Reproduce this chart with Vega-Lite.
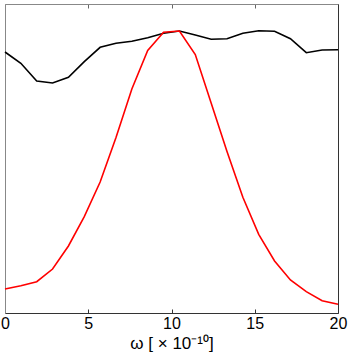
{
  "$schema": "https://vega.github.io/schema/vega-lite/v6.json",
  "width": 333,
  "height": 309,
  "autosize": {"type": "none"},
  "padding": {"left": 5, "top": 4, "right": 11, "bottom": 46},
  "background": "white",
  "config": {
    "view": {"stroke": null},
    "font": "Liberation Sans",
    "axis": {"grid": false}
  },
  "datasets": {
    "black": [
      {"w": 0, "v": 261}, {"w": 0.952, "v": 249.7}, {"w": 1.905, "v": 232}, {"w": 2.857, "v": 230},
      {"w": 3.81, "v": 235.7}, {"w": 4.762, "v": 251.3}, {"w": 5.714, "v": 265.7}, {"w": 6.667, "v": 269.7},
      {"w": 7.619, "v": 271.7}, {"w": 8.571, "v": 275.3}, {"w": 9.524, "v": 279.7}, {"w": 10.476, "v": 282},
      {"w": 11.429, "v": 278}, {"w": 12.381, "v": 273.7}, {"w": 13.333, "v": 274.3}, {"w": 14.286, "v": 279.7},
      {"w": 15.238, "v": 282.3}, {"w": 16.19, "v": 281.7}, {"w": 17.143, "v": 274.3}, {"w": 18.095, "v": 260.3},
      {"w": 19.048, "v": 263}, {"w": 20, "v": 263.3}
    ],
    "red": [
      {"w": 0, "v": 24}, {"w": 0.952, "v": 27.3}, {"w": 1.905, "v": 31.3}, {"w": 2.857, "v": 44},
      {"w": 3.81, "v": 67}, {"w": 4.762, "v": 96.3}, {"w": 5.714, "v": 131}, {"w": 6.667, "v": 175.5},
      {"w": 7.619, "v": 224}, {"w": 8.571, "v": 262.5}, {"w": 9.524, "v": 280.7}, {"w": 10.476, "v": 282},
      {"w": 11.429, "v": 258.5}, {"w": 12.381, "v": 210}, {"w": 13.333, "v": 161.5}, {"w": 14.286, "v": 115.7},
      {"w": 15.238, "v": 78.7}, {"w": 16.19, "v": 52}, {"w": 17.143, "v": 33}, {"w": 18.095, "v": 21.3},
      {"w": 19.048, "v": 12.3}, {"w": 20, "v": 8.7}
    ]
  },
  "layer": [
    {
      "data": {"name": "black"},
      "mark": {"type": "line", "color": "#000000", "strokeWidth": 1.6},
      "encoding": {
        "x": {
          "field": "w", "type": "quantitative",
          "scale": {"domain": [0, 20], "nice": false, "zero": false},
          "axis": {
            "orient": "bottom", "values": [0, 5, 10, 15, 20], "format": "d",
            "title": "ω [ × 10⁻¹⁰]", "titleFont": "Liberation Sans", "titleFontSize": 17, "titleFontWeight": "normal",
            "titleColor": "#000", "titlePadding": 4,
            "labelFontSize": 16, "labelColor": "#000", "labelPadding": 6,
            "domainColor": "#333333", "domainWidth": 1,
            "tickColor": "#333333", "tickSize": -4, "labelFlush": false
          }
        },
        "y": {
          "field": "v", "type": "quantitative",
          "scale": {"domain": [0, 309], "nice": false, "zero": false},
          "axis": {
            "orient": "left", "title": null, "labels": false, "ticks": false,
            "domainColor": "#888888", "domainWidth": 1
          }
        }
      }
    },
    {
      "data": {"name": "red"},
      "mark": {"type": "line", "color": "#ff0000", "strokeWidth": 1.6},
      "encoding": {
        "x": {
          "field": "w", "type": "quantitative",
          "scale": {"domain": [0, 20], "nice": false, "zero": false},
          "axis": {
            "orient": "top", "values": [0, 5, 10, 15, 20], "labels": false, "title": null,
            "domainColor": "#888888", "domainWidth": 1,
            "tickColor": "#666666", "tickSize": -4
          }
        },
        "y": {
          "field": "v", "type": "quantitative",
          "scale": {"domain": [0, 309], "nice": false, "zero": false},
          "axis": {
            "orient": "right", "title": null, "labels": false, "ticks": false,
            "domainColor": "#333333", "domainWidth": 1
          }
        }
      }
    }
  ],
  "resolve": {"axis": {"x": "independent", "y": "independent"}}
}
